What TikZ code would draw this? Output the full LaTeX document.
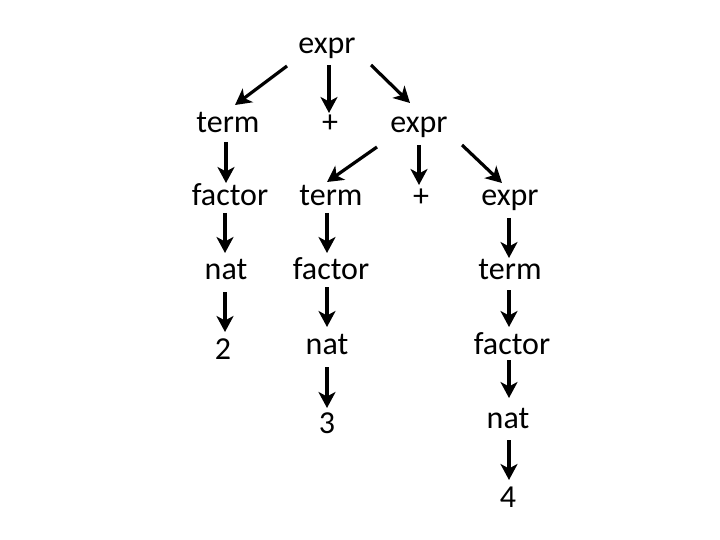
\documentclass[tikz,border=0pt]{standalone}
\usepackage{fontspec}
\setmainfont{Carlito}
\usetikzlibrary{arrows.meta,calc}
\tikzset{
  lbl/.style={anchor=base,inner sep=0pt,font=\fontsize{32}{38}\selectfont},
  arr/.style={line width=3.2pt,-{Stealth[length=16pt,width=17pt,inset=4.5pt]}}
}
\newcommand\varr[4]{\draw[arr] ([shift={(#2)}]#1.base) coordinate (tmp) -- ($(#3.base -| tmp)+(0,#4)$);}
\newcommand\darr[4]{\draw[arr] ([shift={(#2)}]#1.base) -- ([shift={(#4)}]#3.base);}
\begin{document}
\begin{tikzpicture}[x=1pt,y=-1pt]
\useasboundingbox (0,0) rectangle (720,540);
\node[lbl] (n1) at (327,54) {expr};
\node[lbl] (n2) at (228,133) {term};
\node[lbl] (n3) at (330,133) {+};
\node[lbl] (n4) at (419,133) {expr};
\node[lbl] (n5) at (230,206) {factor};
\node[lbl] (n6) at (331,206) {term};
\node[lbl] (n7) at (421,207) {+};
\node[lbl] (n8) at (510,206) {expr};
\node[lbl] (n9) at (226,279) {nat};
\node[lbl] (n10) at (331,279) {factor};
\node[lbl] (n11) at (510,279) {term};
\node[lbl] (n12) at (223,359) {2};
\node[lbl] (n13) at (327,354) {nat};
\node[lbl] (n14) at (512,354) {factor};
\node[lbl] (n15) at (327,433) {3};
\node[lbl] (n16) at (508,428) {nat};
\node[lbl] (n17) at (508,507) {4};
\darr{n1}{-40,12}{n2}{7,-28}
\varr{n1}{2,11}{n3}{-20}
\darr{n1}{44,11}{n4}{-9,-30}
\varr{n2}{-2,9}{n5}{-23}
\darr{n4}{-42,14}{n6}{-4,-24}
\varr{n4}{0,12}{n7}{-22}
\darr{n4}{43,12}{n8}{-8,-23}
\varr{n5}{-5,7}{n9}{-26}
\varr{n9}{-1,13}{n12}{-27}
\varr{n6}{-4,7}{n10}{-26}
\varr{n10}{-4,8}{n13}{-27}
\varr{n13}{0,13}{n15}{-25}
\varr{n8}{-1,12}{n11}{-21}
\varr{n11}{-1,11}{n14}{-27}
\varr{n14}{-3,6}{n16}{-30}
\varr{n16}{1,12}{n17}{-27}
\end{tikzpicture}
\end{document}
